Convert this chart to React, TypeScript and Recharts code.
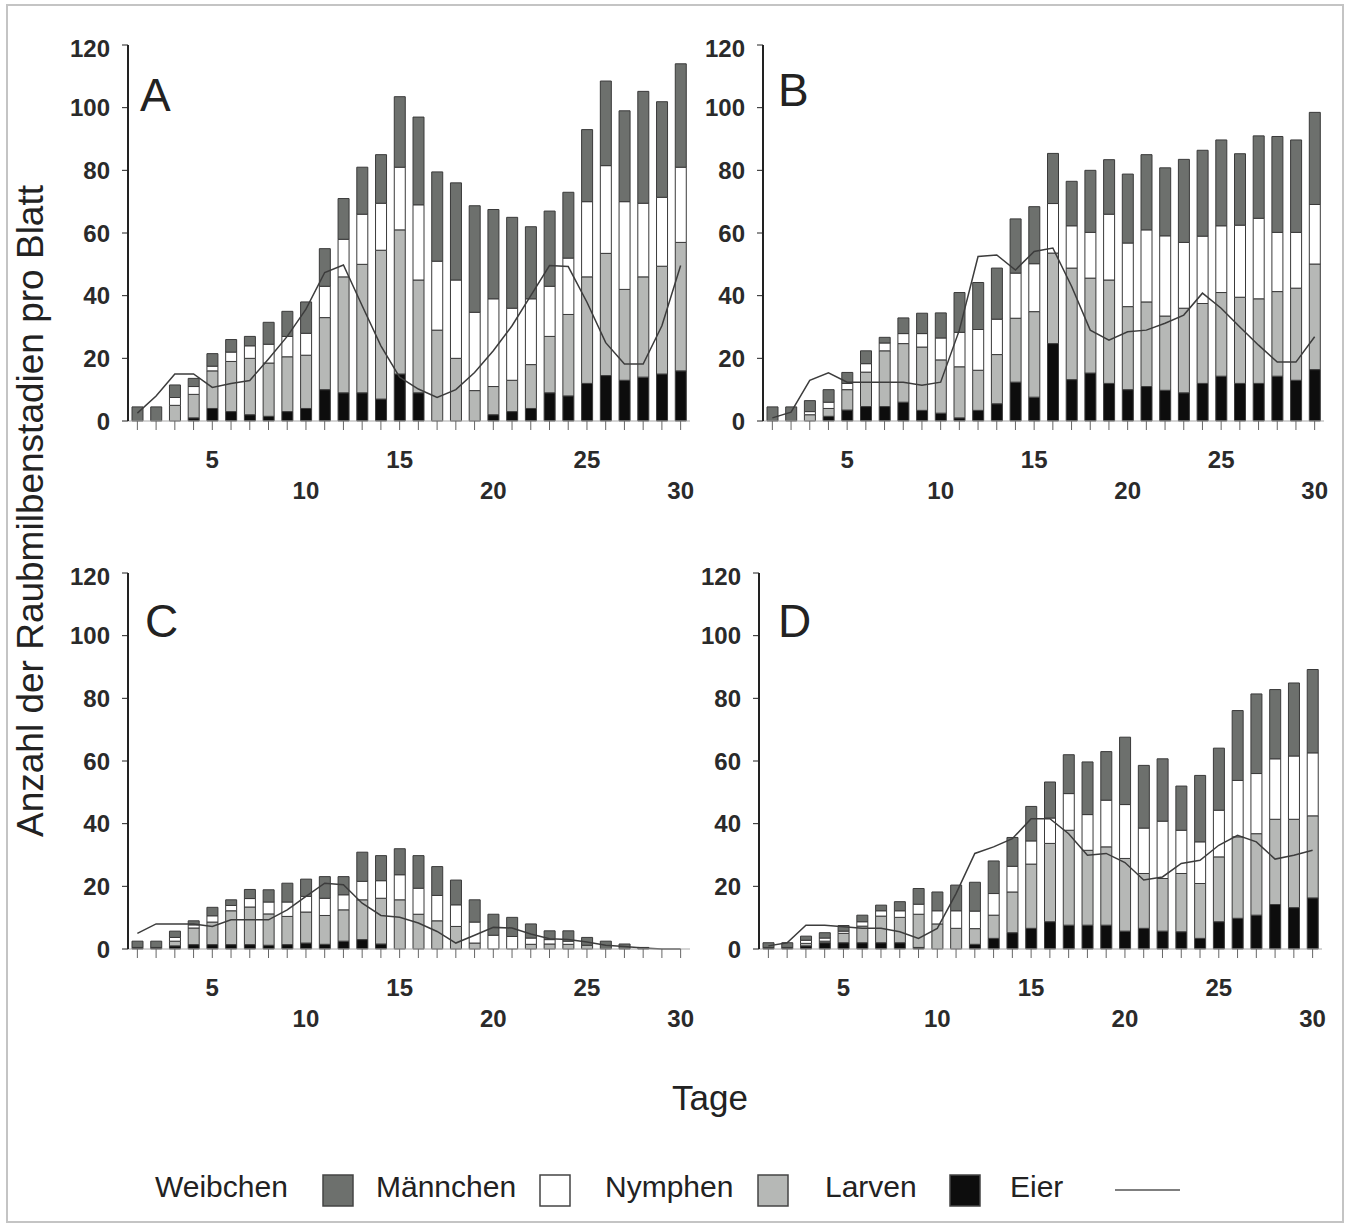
import React from 'react';
import { ComposedChart, Bar, Line, XAxis, YAxis } from 'recharts';

// Tage 1..30
const days = [1, 2, 3, 4, 5, 6, 7, 8, 9, 10, 11, 12, 13, 14, 15, 16, 17, 18, 19, 20, 21, 22, 23, 24, 25, 26, 27, 28, 29, 30];
const xTickLabels = [5, 10, 15, 20, 25, 30];
const yTicks = [0, 20, 40, 60, 80, 100, 120];

// Panel A
const larvenA = [0, 0, 0, 1, 4, 3, 2, 1.5, 3, 4, 10, 9, 9, 7, 15, 9, 0, 0, 0, 2, 3, 4, 9, 8, 12, 14.5, 13, 14, 15, 16];
const nymphenA = [0, 0, 5, 7.5, 12, 16, 18, 17, 17.5, 17, 23, 37, 41, 47.5, 46, 36, 29, 20, 9.7, 9, 10, 14, 18, 26, 34, 39, 29, 32, 34.4, 41];
const maennchenA = [0, 0, 2.5, 2.5, 1.5, 3, 4, 6, 6.5, 7, 10, 12, 16, 15, 20, 24, 22, 25, 25, 28, 23, 21, 16, 18, 24, 28, 28, 23.5, 22, 24];
const weibchenA = [4.5, 4.5, 4, 2.6, 4, 4, 3, 7, 8, 10, 12, 13, 15, 15.5, 22.5, 28, 28.5, 31, 34, 28.5, 29, 23, 24, 21, 23, 27, 29, 35.7, 30.5, 33];
const eierA = [2.5, 8, 15, 15, 10.7, 12, 12.9, 19.8, 27, 35.7, 47.4, 49.8, 36.8, 24, 14, 10.2, 7.5, 10, 15.5, 22.4, 30.4, 40, 49.6, 49.3, 37.9, 25, 18.2, 18.2, 30.4, 49.6];

// Panel B
const larvenB = [0, 0, 0, 1.5, 3.5, 4.6, 4.6, 6, 3.4, 2.5, 1, 3.4, 5.5, 12.4, 7.6, 24.7, 13.2, 15.3, 12, 10, 11, 9.8, 9, 12, 14.3, 12, 12, 14.3, 13, 16.4];
const nymphenB = [0, 0, 2, 2.5, 6.5, 11, 17.8, 18.7, 20.2, 17, 16.3, 12.8, 15.7, 20.4, 27.3, 28.9, 35.6, 30.3, 33, 26.5, 27, 23.7, 27, 25.5, 26.7, 27.5, 27, 27, 29.4, 33.7];
const maennchenB = [0, 0, 1, 2, 2, 2.7, 2.5, 3.2, 4.3, 7, 11, 13, 11.3, 14.4, 15.3, 15.8, 13.5, 14.6, 21, 20.3, 23, 25.6, 21, 21.5, 21.3, 23, 25.7, 18.9, 17.8, 19];
const weibchenB = [4.5, 4.5, 3.5, 4, 3.5, 4.1, 1.8, 5, 6.5, 8, 12.7, 15, 16.3, 17.3, 18.2, 16, 14.2, 19.8, 17.4, 22, 24, 21.7, 26.5, 27.4, 27.4, 22.8, 26.3, 30.6, 29.5, 29.4];
const eierB = [1, 2.8, 13, 15.4, 12.4, 12.4, 12.4, 12.4, 11.4, 12.4, 29, 52.5, 53, 48.2, 54.1, 55.2, 43, 29, 25.8, 28.5, 29, 31.2, 33.8, 40.8, 36, 30, 24.2, 18.8, 18.8, 26.9];

// Panel C
const larvenC = [0.5, 0.5, 1, 1.4, 1.4, 1.4, 1.4, 1.2, 1.4, 1.9, 1.5, 2.5, 3, 1.6, 0, 0, 0, 0, 0, 0, 0, 0, 0, 0, 0, 0, 0, 0, 0, 0];
const nymphenC = [0, 0, 1.5, 5.3, 7.2, 10.8, 12, 10, 9, 9.9, 9.2, 10, 12.7, 14.6, 15.7, 11.1, 9, 7.2, 1.9, 0, 0, 1.5, 1.6, 1.5, 1.2, 0, 0, 0, 0, 0];
const maennchenC = [0, 0, 1.2, 1, 2, 1.7, 2.7, 3.8, 4.6, 5, 5.5, 4.8, 5.9, 5.6, 8, 8.3, 8.1, 6.9, 6.7, 4.4, 4, 2, 1.4, 1, 0, 0, 0, 0, 0, 0];
const weibchenC = [2, 2, 2, 1.3, 2.7, 1.8, 2.9, 3.9, 6, 5.5, 6.9, 5.8, 9.3, 8, 8.3, 10.4, 9.2, 7.9, 7.1, 6.7, 6.1, 4.5, 2.8, 3.3, 2.5, 2.5, 1.6, 0.5, 0, 0];
const eierC = [5, 8, 8, 8, 7.2, 9.3, 9.3, 9.3, 12.5, 16.8, 21, 20.5, 14.6, 10.7, 10.1, 8.3, 5.6, 1.9, 4.4, 6.9, 6.7, 4.8, 3.3, 3, 2.2, 1.2, 0.8, 0.3, 0, 0];

// Panel D
const larvenD = [0.5, 0.5, 1, 2, 2, 2, 2, 2, 0.5, 0, 0, 1.5, 3.4, 5.2, 6.6, 8.7, 7.6, 7.6, 7.6, 5.7, 6.6, 5.7, 5.5, 3.4, 8.7, 9.8, 10.8, 14.2, 13.2, 16.3];
const nymphenD = [0, 0, 0.8, 0.5, 3, 5.3, 8.5, 8.1, 10.6, 8, 6.6, 5, 7.4, 13, 20.5, 25, 30.3, 23.9, 25, 23.2, 17.5, 16.8, 18.6, 17.5, 20.7, 26, 26, 27.2, 28.2, 26.2];
const maennchenD = [0, 0, 1, 1, 0.7, 1.4, 1.7, 2.1, 3.2, 4.2, 5.6, 5.6, 6.9, 8.2, 7.4, 8.1, 11.7, 11.4, 14.9, 17.2, 14.5, 18.3, 13.8, 13.3, 14.9, 18, 19.2, 19.3, 20.2, 20.1];
const weibchenD = [1.5, 1.5, 1.3, 1.7, 1.8, 2.1, 1.8, 2.9, 5, 6, 8.2, 9.2, 10.4, 9.2, 11, 11.5, 12.4, 16.8, 15.5, 21.5, 20, 19.9, 14.1, 21.2, 19.8, 22.3, 25.4, 22.1, 23.3, 26.6];
const eierD = [1, 2, 7.6, 7.6, 7.1, 6.6, 6.6, 5.5, 3.4, 6.6, 17.7, 30.5, 32.6, 35.2, 41.6, 41.6, 36.8, 29.9, 30.5, 27.6, 22, 23, 27.3, 28.3, 33.1, 36.3, 34.2, 28.7, 29.9, 31.5];

const FONT = '"Liberation Sans", Arial, Helvetica, sans-serif';
const DARK = '#6d706d';
const LIGHT = '#b6b8b6';
const BLACK = '#0d0d0d';
const OUTLINE = '#3a3a3a';

const PLOT_H = 376;
const Y_W = 70;

const buildRows = (larven: number[], nymphen: number[], maennchen: number[], weibchen: number[], eier: number[]) =>
  days.map((day, i) => ({
    day,
    larven: larven[i],
    nymphen: nymphen[i],
    maennchen: maennchen[i],
    weibchen: weibchen[i],
    eier: eier[i],
  }));

const renderDayTick = (props: any) => {
  const { x, y, payload } = props;
  const v = Number(payload.value);
  if (!xTickLabels.includes(v)) return <g />;
  const low = v % 10 === 0;
  return (
    <text
      x={x}
      y={y + (low ? 58 : 27)}
      textAnchor="middle"
      dominantBaseline="central"
      fontSize={24}
      fontWeight="bold"
      fontFamily={FONT}
      fill="#2a2a2a"
    >
      {v}
    </text>
  );
};

interface PanelProps {
  left: number;
  top: number;
  width: number;
  rows: any[];
}

const Panel: React.FC<PanelProps> = ({ left, top, width, rows }) => (
  <div style={{ position: 'absolute', left: left - Y_W, top: top - 10 }}>
    <ComposedChart
      width={Y_W + width + 10}
      height={10 + PLOT_H + 85}
      data={rows}
      margin={{ top: 10, right: 10, left: 0, bottom: 0 }}
      barSize={11}
    >
      <XAxis
        dataKey="day"
        interval={0}
        tickSize={9}
        tickLine={{ stroke: '#666' }}
        axisLine={{ stroke: '#aaa' }}
        height={85}
        tick={renderDayTick}
      />
      <YAxis
        domain={[0, 120]}
        ticks={yTicks}
        width={Y_W}
        tickSize={6}
        tickMargin={12}
        axisLine={{ stroke: '#222', strokeWidth: 2 }}
        tickLine={{ stroke: '#222' }}
        tick={{ fontSize: 24, fontWeight: 'bold', fill: '#2a2a2a', fontFamily: FONT }}
      />
      <Bar dataKey="larven" stackId="s" fill={BLACK} stroke={OUTLINE} strokeWidth={1} isAnimationActive={false} />
      <Bar dataKey="nymphen" stackId="s" fill={LIGHT} stroke={OUTLINE} strokeWidth={1} isAnimationActive={false} />
      <Bar dataKey="maennchen" stackId="s" fill="#ffffff" stroke={OUTLINE} strokeWidth={1} isAnimationActive={false} />
      <Bar dataKey="weibchen" stackId="s" fill={DARK} stroke={OUTLINE} strokeWidth={1} isAnimationActive={false} />
      <Line
        type="linear"
        dataKey="eier"
        stroke="#3c3c3c"
        strokeWidth={1.5}
        dot={false}
        activeDot={false}
        isAnimationActive={false}
      />
    </ComposedChart>
  </div>
);

const legendItems = [
  { label: 'Weibchen', textX: 155, boxX: 323, fill: DARK },
  { label: 'Männchen', textX: 376, boxX: 540, fill: '#ffffff' },
  { label: 'Nymphen', textX: 605, boxX: 758, fill: LIGHT },
  { label: 'Larven', textX: 825, boxX: 950, fill: BLACK },
];

export default function App() {
  return (
    <div style={{ position: 'absolute', left: 0, top: 0, width: 1351, height: 1227, background: '#fff', fontFamily: FONT }}>
      <Panel left={128} top={45} width={562} rows={buildRows(larvenA, nymphenA, maennchenA, weibchenA, eierA)} />
      <Panel left={763} top={45} width={561} rows={buildRows(larvenB, nymphenB, maennchenB, weibchenB, eierB)} />
      <Panel left={128} top={573} width={562} rows={buildRows(larvenC, nymphenC, maennchenC, weibchenC, eierC)} />
      <Panel left={759} top={573} width={563} rows={buildRows(larvenD, nymphenD, maennchenD, weibchenD, eierD)} />
      <svg width={1351} height={1227} style={{ position: 'absolute', left: 0, top: 0, pointerEvents: 'none' }}>
        <rect x={7} y={5} width={1336} height={1217} fill="none" stroke="#c4c4c4" strokeWidth={2} />
        <text x={140} y={111} fontSize={46} fill="#222" fontFamily={FONT}>A</text>
        <text x={778} y={106} fontSize={46} fill="#222" fontFamily={FONT}>B</text>
        <text x={145} y={637} fontSize={46} fill="#222" fontFamily={FONT}>C</text>
        <text x={778} y={637} fontSize={46} fill="#222" fontFamily={FONT}>D</text>
        <text
          x={0}
          y={0}
          transform="translate(43 511) rotate(-90)"
          textAnchor="middle"
          fontSize={37}
          fill="#222"
          fontFamily={FONT}
        >
          Anzahl der Raubmilbenstadien pro Blatt
        </text>
        <text x={710} y={1110} textAnchor="middle" fontSize={35} fill="#222" fontFamily={FONT}>Tage</text>
        {legendItems.map((item) => (
          <g key={item.label}>
            <text x={item.textX} y={1197} fontSize={30} fill="#222" fontFamily={FONT}>{item.label}</text>
            <rect x={item.boxX} y={1175} width={30} height={31} fill={item.fill} stroke="#444" strokeWidth={1.5} />
          </g>
        ))}
        <text x={1010} y={1197} fontSize={30} fill="#222" fontFamily={FONT}>Eier</text>
        <line x1={1115} y1={1190} x2={1180} y2={1190} stroke="#555" strokeWidth={1.5} />
      </svg>
    </div>
  );
}
